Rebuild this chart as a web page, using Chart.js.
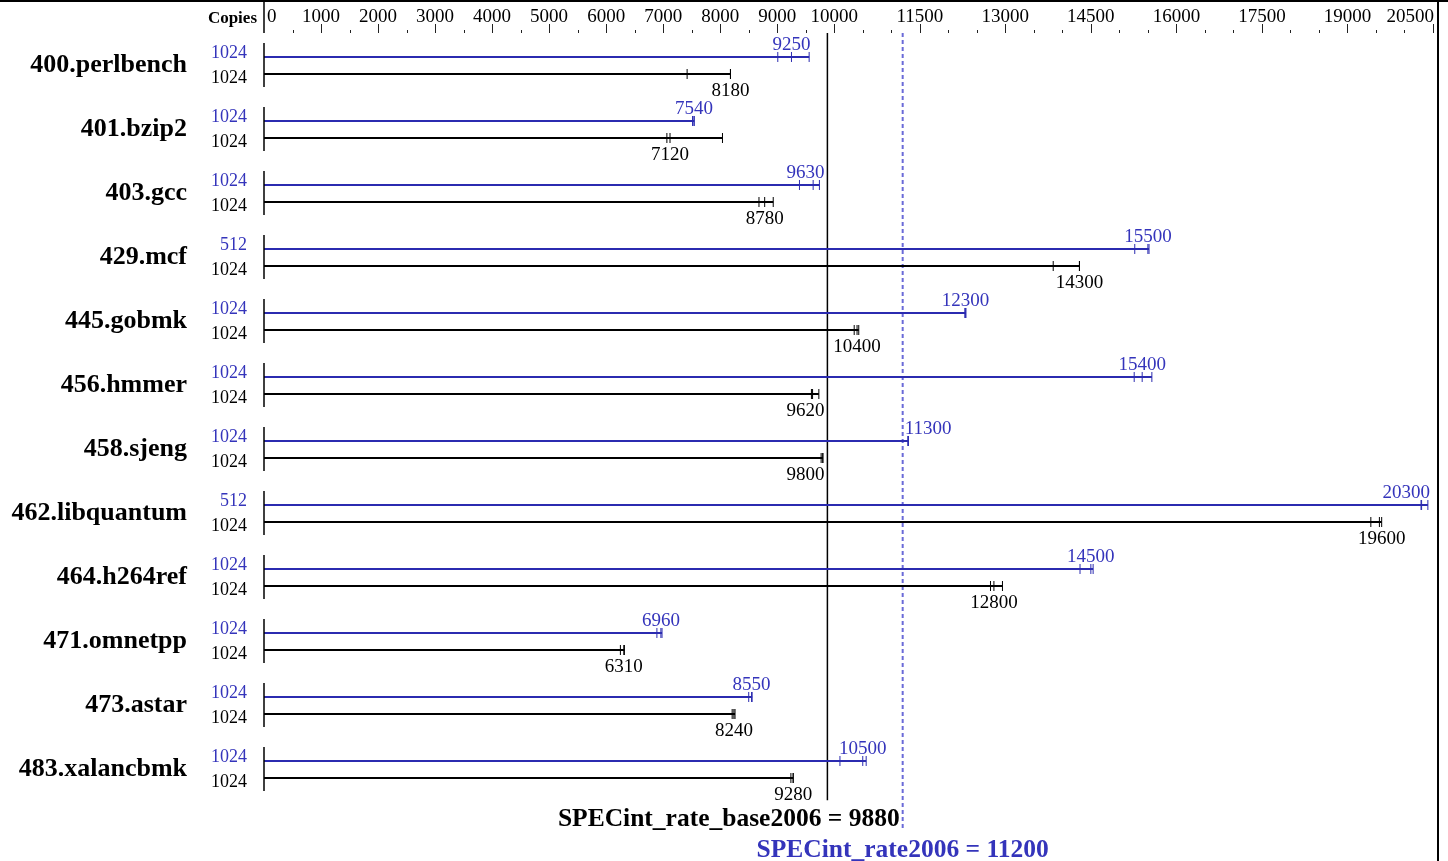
<!DOCTYPE html>
<html>
<head>
<meta charset="utf-8">
<script src="https://cdn.jsdelivr.net/npm/chart.js@4.4.1/dist/chart.umd.min.js"></script>
<style>
  html, body { margin: 0; padding: 0; background: #fff; }
  #wrap { width: 1448px; height: 861px; }
</style>
</head>
<body>
<div id="wrap"><canvas id="chart"></canvas></div>
<script>
// SPECint_rate2006 result chart (base = black, peak = blue)

var benchmarks = ['400.perlbench', '401.bzip2', '403.gcc', '429.mcf', '445.gobmk', '456.hmmer',
  '458.sjeng', '462.libquantum', '464.h264ref', '471.omnetpp', '473.astar', '483.xalancbmk'];
var peakCopies = [1024, 1024, 1024, 512, 1024, 1024, 1024, 512, 1024, 1024, 1024, 1024];
var baseCopies = [1024, 1024, 1024, 1024, 1024, 1024, 1024, 1024, 1024, 1024, 1024, 1024];
var peakRatio = [9250, 7540, 9630, 15500, 12300, 15400, 11300, 20300, 14500, 6960, 8550, 10500];
var baseRatio = [8180, 7120, 8780, 14300, 10400, 9620, 9800, 19600, 12800, 6310, 8240, 9280];
var peakRuns = [[9010, 9250, 9560], [7515, 7540, 7545], [9390, 9630, 9740], [15270, 15500, 15520],
  [12290, 12300, 12310], [15260, 15400, 15570], [11290, 11300, 11300], [20290, 20300, 20410],
  [14310, 14500, 14540], [6890, 6960, 6980], [8500, 8550, 8560], [10100, 10500, 10560]];
var baseRuns = [[7420, 8180, 8180], [7065, 7120, 8040], [8680, 8780, 8930], [13840, 14300, 14300],
  [10350, 10400, 10430], [9600, 9620, 9730], [9770, 9800, 9800], [19410, 19560, 19600],
  [12740, 12800, 12950], [6250, 6310, 6320], [8210, 8240, 8260], [9240, 9280, 9280]];
var majorTicks = [0, 1000, 2000, 3000, 4000, 5000, 6000, 7000, 8000, 9000, 10000,
  11500, 13000, 14500, 16000, 17500, 19000, 20500];
var minorTicks = [500, 1500, 2500, 3500, 4500, 5500, 6500, 7500, 8500, 9500, 10500, 11000,
  12000, 12500, 13500, 14000, 15000, 15500, 16500, 17000, 18000, 18500, 19500, 20000];
var baseScore = 9880;
var peakScore = 11200;

var BLUE = '#2b2bb0';
var BLUE_TEXT = '#3434bb';
var DASH_BLUE = '#6a6ad8';
var SERIF = '"Liberation Serif", "Times New Roman", serif';
var ROW_OFF = 0.133;

var datasets = [];
benchmarks.forEach(function(name, i) {
  var yp = i - ROW_OFF, yb = i + ROW_OFF;
  datasets.push({
    type: 'line', data: [{x: 0, y: i - 0.352}, {x: 0, y: i + 0.336}],
    borderColor: '#000', borderWidth: 1.5, pointRadius: 0
  });
  datasets.push({
    type: 'line', data: [{x: 0, y: yp}, {x: Math.max.apply(null, peakRuns[i]), y: yp}],
    borderColor: BLUE, borderWidth: 2, pointRadius: 0
  });
  datasets.push({
    type: 'line', data: [{x: 0, y: yb}, {x: Math.max.apply(null, baseRuns[i]), y: yb}],
    borderColor: '#000', borderWidth: 2, pointRadius: 0
  });
  datasets.push({
    type: 'scatter', data: peakRuns[i].map(function(v) { return {x: v, y: yp}; }),
    pointStyle: 'line', rotation: 90, radius: 5, borderColor: BLUE, borderWidth: 1
  });
  datasets.push({
    type: 'scatter', data: baseRuns[i].map(function(v) { return {x: v, y: yb}; }),
    pointStyle: 'line', rotation: 90, radius: 5, borderColor: '#000', borderWidth: 1
  });
});
// overall score lines
datasets.push({
  type: 'line', data: [{x: baseScore, y: -0.508}, {x: baseScore, y: 11.48}],
  borderColor: '#000', borderWidth: 1.5, pointRadius: 0
});
datasets.push({
  type: 'line', data: [{x: peakScore, y: -0.508}, {x: peakScore, y: 11.95}],
  borderColor: DASH_BLUE, borderWidth: 2, borderDash: [4, 3], pointRadius: 0
});

function rowPx(y, v) { return y.getPixelForValue(v); }

var specPlugin = {
  id: 'spec',
  beforeDraw: function(chart) {
    var ctx = chart.ctx;
    ctx.save();
    ctx.fillStyle = '#fff';
    ctx.fillRect(0, 0, chart.width, chart.height);
    ctx.restore();
  },
  afterDatasetsDraw: function(chart) {
    var ctx = chart.ctx, x = chart.scales.x, y = chart.scales.y;
    var area = chart.chartArea;
    var x0 = x.getPixelForValue(0);
    var refs = [x.getPixelForValue(baseScore), x.getPixelForValue(peakScore)];
    ctx.save();

    // frame
    ctx.strokeStyle = '#000';
    ctx.lineWidth = 2;
    ctx.beginPath();
    ctx.moveTo(0, 1); ctx.lineTo(chart.width, 1);
    ctx.moveTo(1438, 0); ctx.lineTo(1438, chart.height);
    ctx.stroke();

    // top axis
    ctx.lineWidth = 1.5;
    ctx.beginPath();
    ctx.moveTo(x0, 2); ctx.lineTo(x0, 33);
    ctx.stroke();
    ctx.lineWidth = 1;
    ctx.strokeStyle = '#222';
    ctx.beginPath();
    majorTicks.forEach(function(v) {
      if (v === 0) return;
      var px = Math.round(x.getPixelForValue(v)) + 0.5;
      ctx.moveTo(px, 24); ctx.lineTo(px, 33);
    });
    minorTicks.forEach(function(v) {
      var px = Math.round(x.getPixelForValue(v)) + 0.5;
      ctx.moveTo(px, 30); ctx.lineTo(px, 33);
    });
    ctx.stroke();
    ctx.fillStyle = '#000';
    ctx.font = '19px ' + SERIF;
    ctx.textBaseline = 'alphabetic';
    majorTicks.forEach(function(v, k) {
      var px = x.getPixelForValue(v);
      if (k === 0) { ctx.textAlign = 'left'; px += 3; }
      else if (k === majorTicks.length - 1) { ctx.textAlign = 'right'; px += 1; }
      else ctx.textAlign = 'center';
      ctx.fillText(String(v), px, 22);
    });
    ctx.font = 'bold 17px ' + SERIF;
    ctx.textAlign = 'right';
    ctx.fillText('Copies', 257, 23);

    // value label placed to stay clear of the score lines
    function valueLabel(text, v, py) {
      var cx = x.getPixelForValue(v);
      var w = ctx.measureText(text).width;
      var left = cx - w / 2;
      refs.forEach(function(r) {
        if (left < r && left + w > r) {
          left = (cx < r) ? r - 3 - w : r + 2;
        }
      });
      if (left + w > area.right - 3) left = area.right - 3 - w;
      ctx.textAlign = 'left';
      ctx.fillText(text, left, py);
    }

    benchmarks.forEach(function(name, i) {
      var yp = rowPx(y, i - ROW_OFF), yb = rowPx(y, i + ROW_OFF), ym = rowPx(y, i);
      ctx.fillStyle = '#000';
      ctx.font = 'bold 26px ' + SERIF;
      ctx.textAlign = 'right';
      ctx.fillText(name, 187, ym + 7);

      ctx.font = '18px ' + SERIF;
      ctx.fillStyle = BLUE_TEXT;
      ctx.fillText(String(peakCopies[i]), 247, yp + 1);
      ctx.fillStyle = '#000';
      ctx.fillText(String(baseCopies[i]), 247, yb + 9);

      ctx.font = '19px ' + SERIF;
      ctx.fillStyle = BLUE_TEXT;
      valueLabel(String(peakRatio[i]), peakRatio[i], yp - 7);
      ctx.fillStyle = '#000';
      valueLabel(String(baseRatio[i]), baseRatio[i], yb + 22);
    });

    // overall scores
    ctx.font = 'bold 25.5px ' + SERIF;
    ctx.fillStyle = '#000';
    ctx.textAlign = 'right';
    ctx.fillText('SPECint_rate_base2006 = ' + baseScore, refs[1] - 3, 826);
    ctx.fillStyle = BLUE_TEXT;
    ctx.textAlign = 'center';
    ctx.fillText('SPECint_rate2006 = ' + peakScore, refs[1], 857);
    ctx.restore();
  }
};

new Chart(document.getElementById('chart'), {
  type: 'scatter',
  data: { datasets: datasets },
  options: {
    responsive: true,
    maintainAspectRatio: false,
    animation: false,
    events: [],
    clip: false,
    layout: { autoPadding: false, padding: { left: 264, right: 15, top: 0, bottom: 0 } },
    elements: { line: { tension: 0 } },
    datasets: { line: { showLine: true, clip: false }, scatter: { clip: false } },
    scales: {
      x: { type: 'linear', display: false, min: 0, max: 20500 },
      y: { type: 'linear', display: false, reverse: true, min: -1.0234, max: 12.4297 }
    },
    plugins: { legend: { display: false }, tooltip: { enabled: false } }
  },
  plugins: [specPlugin]
});
</script>
</body>
</html>
